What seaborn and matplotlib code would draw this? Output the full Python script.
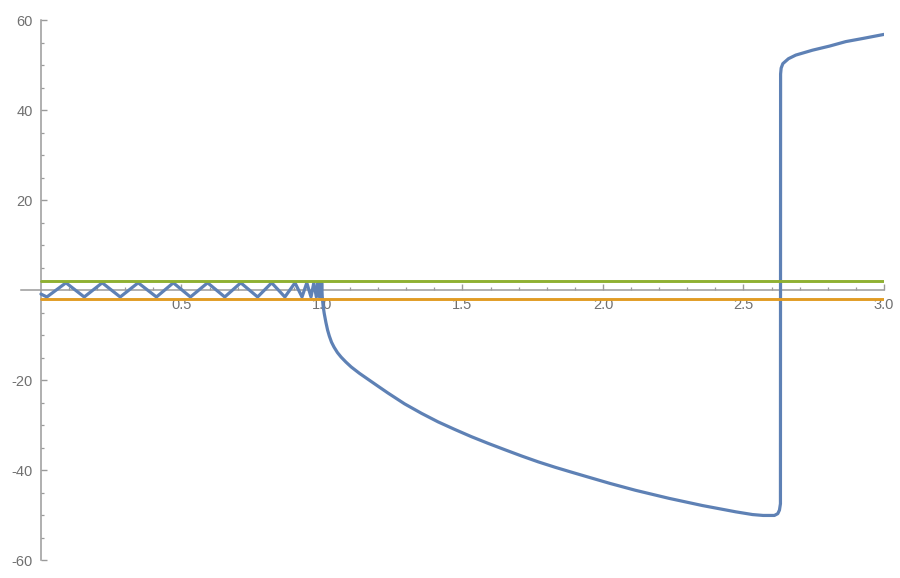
import matplotlib
matplotlib.use("Agg")
import matplotlib.pyplot as plt
from matplotlib.ticker import FixedLocator, FixedFormatter
import pandas as pd
import seaborn as sns

# Blue curve: zig-zag below x = 1, then the lower branch, the jump and the upper branch
blue_x = [0.000, 0.021, 0.089, 0.154, 0.218, 0.282, 0.346, 0.411, 0.471, 0.532,
          0.593, 0.654, 0.711, 0.771, 0.821, 0.868, 0.904, 0.929, 0.946, 0.961,
          0.971, 0.980, 0.986, 0.991, 0.995, 0.997, 0.999, 1.000,
          1.001, 1.004, 1.008, 1.014, 1.020, 1.026, 1.034, 1.043, 1.055, 1.068,
          1.085, 1.104, 1.133, 1.163, 1.200, 1.235, 1.294, 1.354, 1.413, 1.473,
          1.532, 1.592, 1.651, 1.711, 1.770, 1.830, 1.889, 1.949, 2.026, 2.115,
          2.235, 2.354, 2.473, 2.532, 2.570, 2.610, 2.622, 2.628, 2.6315,
          2.632, 2.634, 2.640, 2.660, 2.686, 2.746, 2.806, 2.864, 2.925, 3.000]
blue_y = [-0.9, -1.55, 1.6, -1.55, 1.6, -1.55, 1.6, -1.55, 1.6, -1.55,
          1.6, -1.55, 1.6, -1.55, 1.6, -1.55, 1.6, -1.55, 1.6, -1.55,
          1.6, -1.55, 1.6, -1.55, 1.6, -1.55, 1.6, 0.0,
          -1.5, -3.5, -5.2, -7.2, -8.9, -10.2, -11.6, -12.7, -13.9, -14.9,
          -16.0, -17.1, -18.5, -19.8, -21.4, -22.9, -25.3, -27.4, -29.3, -31.0,
          -32.6, -34.1, -35.5, -36.9, -38.2, -39.4, -40.5, -41.6, -43.0, -44.5,
          -46.3, -47.9, -49.3, -49.9, -50.1, -50.1, -49.7, -48.9, -47.5,
          48.0, 49.3, 50.3, 51.4, 52.2, 53.3, 54.2, 55.2, 55.9, 56.8]

# Constant bounds
upper_x = [0.0, 3.0]
upper_y = [2.0, 2.0]
lower_x = [0.0, 3.0]
lower_y = [-2.0, -2.0]

x_major = [0.5, 1.0, 1.5, 2.0, 2.5, 3.0]
x_major_labels = ["0.5", "1.0", "1.5", "2.0", "2.5", "3.0"]
y_major = [-60, -40, -20, 20, 40, 60]
y_major_labels = ["-60", "-40", "-20", "20", "40", "60"]

sns.set_style("white")
plt.rcParams["font.family"] = ["Liberation Sans", "DejaVu Sans"]

fig = plt.figure(figsize=(9.0, 5.78), dpi=100)
ax = fig.add_axes([21 / 900, 18 / 578, 863 / 900, 540 / 578])

blue_df = pd.DataFrame({"x": blue_x, "y": blue_y})
sns.lineplot(data=blue_df, x="x", y="y", ax=ax, color="#5E81B5", lw=2.3,
             estimator=None, sort=False, zorder=3)
sns.lineplot(x=lower_x, y=lower_y, ax=ax, color="#E19C24", lw=2.1,
             estimator=None, sort=False, zorder=4)
sns.lineplot(x=upper_x, y=upper_y, ax=ax, color="#8FB032", lw=2.1,
             estimator=None, sort=False, zorder=4)

ax.set_xlim(-0.071, 3.0)
ax.set_ylim(-60, 60)
ax.set_xlabel("")
ax.set_ylabel("")

axis_col = "#9a9a9a"
for side in ("top", "right"):
    ax.spines[side].set_visible(False)
ax.spines["left"].set_position(("data", 0))
ax.spines["bottom"].set_position(("data", 0))
for side in ("left", "bottom"):
    ax.spines[side].set_color(axis_col)
    ax.spines[side].set_linewidth(1.1)
    ax.spines[side].set_zorder(2)

ax.xaxis.set_major_locator(FixedLocator(x_major))
ax.xaxis.set_major_formatter(FixedFormatter(x_major_labels))
ax.xaxis.set_minor_locator(FixedLocator([0.1, 0.2, 0.3, 0.4, 0.6, 0.7, 0.8, 0.9,
                                         1.1, 1.2, 1.3, 1.4, 1.6, 1.7, 1.8, 1.9,
                                         2.1, 2.2, 2.3, 2.4, 2.6, 2.7, 2.8, 2.9]))
ax.yaxis.set_major_locator(FixedLocator(y_major))
ax.yaxis.set_major_formatter(FixedFormatter(y_major_labels))
ax.yaxis.set_minor_locator(FixedLocator([-55, -50, -45, -35, -30, -25, -15, -10, -5,
                                         5, 10, 15, 25, 30, 35, 45, 50, 55]))

label_col = "#707070"
ax.tick_params(bottom=True, left=True, top=False, right=False, which="both")
ax.tick_params(axis="both", which="major", direction="in", length=4.0, width=1.0,
               color=axis_col, labelcolor=label_col, labelsize=10.5)
ax.tick_params(axis="both", which="minor", direction="in", length=2.3, width=0.9,
               color=axis_col)
ax.tick_params(axis="x", which="major", pad=6)
ax.tick_params(axis="y", which="major", pad=6)

fig.savefig("out.png", dpi=100)
